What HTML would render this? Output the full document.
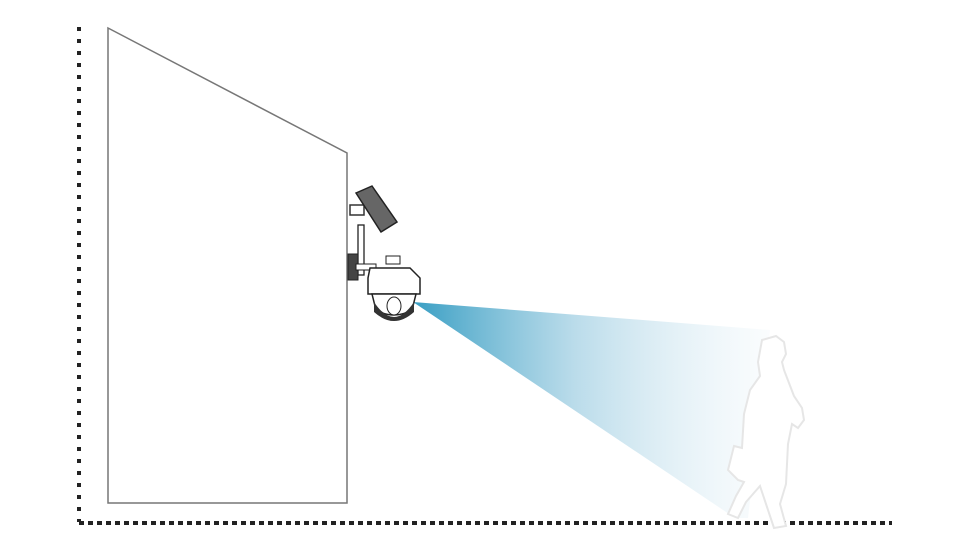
<!DOCTYPE html>
<html><head><style>body{margin:0;background:#fff}svg{display:block}</style></head><body>
<svg width="962" height="544" viewBox="0 0 962 544" xmlns="http://www.w3.org/2000/svg">
<defs>
<linearGradient id="g" x1="415" y1="0" x2="770" y2="0" gradientUnits="userSpaceOnUse">
<stop offset="0" stop-color="#3a9fc4"/><stop offset="0.45" stop-color="#a9d3e5" stop-opacity="0.8"/><stop offset="1" stop-color="#eef6fa" stop-opacity="0.3"/>
</linearGradient>
</defs>
<line x1="79" y1="27" x2="79" y2="522" stroke="#222" stroke-width="4" stroke-dasharray="4 8"/>
<line x1="79" y1="523" x2="892" y2="523" stroke="#222" stroke-width="4" stroke-dasharray="5 4"/>
<polygon points="108,28 347,153 347,503 108,503" fill="#fff" stroke="#777" stroke-width="1.5"/>
<polygon points="413,302 770,330 748,518 735,518" fill="url(#g)"/>
<!-- person outline -->
<path d="M762,340 l14,-4 l8,6 l2,12 l-4,8 l2,8 l10,26 l8,12 l2,12 l-6,8 l-6,-4 l-4,20 l-2,40 l-6,20 l6,22 l-12,2 l-8,-24 l-6,-18 l-14,16 l-8,16 l-10,-4 l8,-18 l8,-14 l-6,-2 l-10,-10 l6,-24 l8,2 l2,-34 l6,-24 l10,-14 l-2,-14 z" fill="#fff" stroke="#e6e6e6" stroke-width="2"/>
<!-- solar panel -->
<rect x="350" y="205" width="14" height="10" fill="#fff" stroke="#333" stroke-width="1.5"/>
<polygon points="356,193 372,186 397,222 381,232" fill="#666" stroke="#222" stroke-width="1.5"/>
<!-- antenna -->
<rect x="358" y="225" width="6" height="50" fill="#fff" stroke="#222" stroke-width="1.3"/>
<!-- bracket -->
<rect x="348" y="254" width="10" height="26" fill="#444" stroke="#222"/>
<rect x="356" y="264" width="20" height="6" fill="#fff" stroke="#222"/>
<!-- camera -->
<rect x="386" y="256" width="14" height="8" fill="#fff" stroke="#222"/>
<path d="M370,268 l40,0 l10,10 l0,16 l-52,0 l0,-16 z" fill="#fff" stroke="#222" stroke-width="1.5"/>
<path d="M372,294 l44,0 l-4,16 q-18,10 -36,0 z" fill="#fff" stroke="#222" stroke-width="1.5"/>
<path d="M374,302 q20,30 40,0 l0,10 q-20,18 -40,0 z" fill="#333"/>
<ellipse cx="394" cy="306" rx="7" ry="9" fill="#fff" stroke="#222"/>
</svg>
</body></html>
